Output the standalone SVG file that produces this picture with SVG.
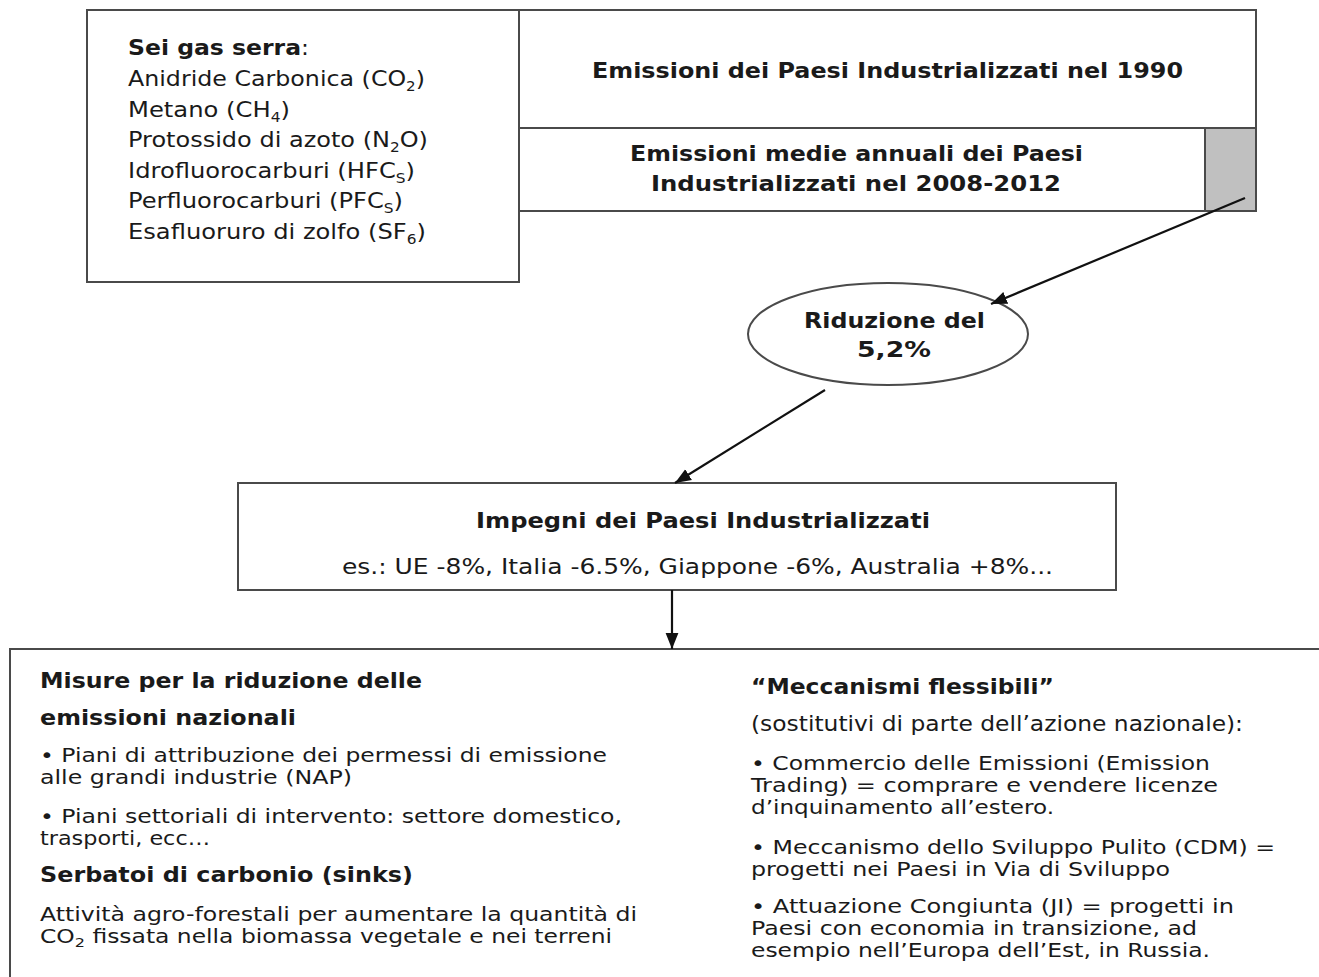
<svg xmlns="http://www.w3.org/2000/svg" width="1319" height="977" viewBox="0 0 1319 977">
<defs>
<style>
.box{fill:#fff;stroke:#4a4a4a;stroke-width:2}
.t{font-family:"DejaVu Sans","Liberation Sans",sans-serif;font-size:22px;fill:#1a1a1a}
.s{font-size:19px}
.b{font-weight:bold}
.conn{stroke:#111;stroke-width:2.2;fill:none}
</style>
<marker id="ah2" viewBox="0 0 10 10" refX="10" refY="5" markerWidth="16" markerHeight="16" markerUnits="userSpaceOnUse" orient="auto">
<path d="M0,1 L10,5 L0,9 z" fill="#111"/>
</marker>
</defs>
<rect width="1319" height="977" fill="#fff"/>

<g id="gas">
<rect class="box" x="87" y="10" width="432" height="272"/>
<text class="t" x="128" y="55" textLength="181" lengthAdjust="spacingAndGlyphs"><tspan class="b">Sei gas serra</tspan>:</text>
<text class="t" x="128" y="86" textLength="297" lengthAdjust="spacingAndGlyphs">Anidride Carbonica (CO<tspan dy="5" font-size="14">2</tspan><tspan dy="-5">)</tspan></text>
<text class="t" x="128" y="117" textLength="162" lengthAdjust="spacingAndGlyphs">Metano (CH<tspan dy="5" font-size="14">4</tspan><tspan dy="-5">)</tspan></text>
<text class="t" x="128" y="147" textLength="300" lengthAdjust="spacingAndGlyphs">Protossido di azoto (N<tspan dy="5" font-size="14">2</tspan><tspan dy="-5">O)</tspan></text>
<text class="t" x="128" y="178" textLength="287" lengthAdjust="spacingAndGlyphs">Idrofluorocarburi (HFC<tspan dy="5" font-size="14">S</tspan><tspan dy="-5">)</tspan></text>
<text class="t" x="128" y="208" textLength="275" lengthAdjust="spacingAndGlyphs">Perfluorocarburi (PFC<tspan dy="5" font-size="14">S</tspan><tspan dy="-5">)</tspan></text>
<text class="t" x="128" y="239" textLength="298" lengthAdjust="spacingAndGlyphs">Esafluoruro di zolfo (SF<tspan dy="5" font-size="14">6</tspan><tspan dy="-5">)</tspan></text>
</g>

<g id="em1990">
<rect class="box" x="519" y="10" width="737" height="118"/>
<text class="t b" x="592" y="78" textLength="591" lengthAdjust="spacingAndGlyphs">Emissioni dei Paesi Industrializzati nel 1990</text>
</g>

<g id="em2008">
<rect class="box" x="519" y="128" width="737" height="83"/>
<rect x="1205" y="128" width="51" height="83" fill="#c0c0c0" stroke="#4a4a4a" stroke-width="2"/>
<text class="t b" x="630" y="161" textLength="453" lengthAdjust="spacingAndGlyphs">Emissioni medie annuali dei Paesi</text>
<text class="t b" x="651" y="191" textLength="410" lengthAdjust="spacingAndGlyphs">Industrializzati nel 2008-2012</text>
</g>

<g id="riduzione">
<ellipse class="box" cx="888" cy="334" rx="140" ry="51"/>
<text class="t b" x="804" y="328" textLength="181" lengthAdjust="spacingAndGlyphs">Riduzione del</text>
<text class="t b" x="857" y="357" textLength="74" lengthAdjust="spacingAndGlyphs">5,2%</text>
</g>

<g id="impegni">
<rect class="box" x="238" y="483" width="878" height="107"/>
<text class="t b" x="476" y="528" textLength="454" lengthAdjust="spacingAndGlyphs">Impegni dei Paesi Industrializzati</text>
<text class="t" x="342" y="574" textLength="711" lengthAdjust="spacingAndGlyphs">es.: UE -8%, Italia -6.5%, Giappone -6%, Australia +8%...</text>
</g>

<g id="misure">
<path class="box" d="M10,990 L10,649 L1330,649"/>
<text class="t b" x="40" y="688" textLength="382" lengthAdjust="spacingAndGlyphs">Misure per la riduzione delle</text>
<text class="t b" x="40" y="725" textLength="256" lengthAdjust="spacingAndGlyphs">emissioni nazionali</text>
<text class="t s" x="40" y="762" textLength="567" lengthAdjust="spacingAndGlyphs">• Piani di attribuzione dei permessi di emissione</text>
<text class="t s" x="40" y="784" textLength="312" lengthAdjust="spacingAndGlyphs">alle grandi industrie (NAP)</text>
<text class="t s" x="40" y="823" textLength="582" lengthAdjust="spacingAndGlyphs">• Piani settoriali di intervento: settore domestico,</text>
<text class="t s" x="40" y="845" textLength="170" lengthAdjust="spacingAndGlyphs">trasporti, ecc…</text>
<text class="t b" x="40" y="882" textLength="373" lengthAdjust="spacingAndGlyphs">Serbatoi di carbonio (sinks)</text>
<text class="t s" x="40" y="921" textLength="597" lengthAdjust="spacingAndGlyphs">Attività agro-forestali per aumentare la quantità di</text>
<text class="t s" x="40" y="943" textLength="572" lengthAdjust="spacingAndGlyphs">CO<tspan dy="4" font-size="13">2</tspan><tspan dy="-4"> fissata nella biomassa vegetale e nei terreni</tspan></text>
</g>

<g id="meccanismi">
<text class="t b" x="751" y="694" textLength="303" lengthAdjust="spacingAndGlyphs">“Meccanismi flessibili”</text>
<text class="t" x="751" y="731" textLength="492" lengthAdjust="spacingAndGlyphs">(sostitutivi di parte dell’azione nazionale):</text>
<text class="t s" x="751" y="770" textLength="459" lengthAdjust="spacingAndGlyphs">• Commercio delle Emissioni (Emission</text>
<text class="t s" x="751" y="792" textLength="467" lengthAdjust="spacingAndGlyphs">Trading) = comprare e vendere licenze</text>
<text class="t s" x="751" y="814" textLength="303" lengthAdjust="spacingAndGlyphs">d’inquinamento all’estero.</text>
<text class="t s" x="751" y="854" textLength="524" lengthAdjust="spacingAndGlyphs">• Meccanismo dello Sviluppo Pulito (CDM) =</text>
<text class="t s" x="751" y="876" textLength="419" lengthAdjust="spacingAndGlyphs">progetti nei Paesi in Via di Sviluppo</text>
<text class="t s" x="751" y="913" textLength="483" lengthAdjust="spacingAndGlyphs">• Attuazione Congiunta (JI) = progetti in</text>
<text class="t s" x="751" y="935" textLength="446" lengthAdjust="spacingAndGlyphs">Paesi con economia in transizione, ad</text>
<text class="t s" x="751" y="957" textLength="459" lengthAdjust="spacingAndGlyphs">esempio nell’Europa dell’Est, in Russia.</text>
</g>

<g id="connectors">
<line class="conn" x1="1245" y1="198" x2="991" y2="304" marker-end="url(#ah2)"/>
<line class="conn" x1="825" y1="390" x2="675" y2="483" marker-end="url(#ah2)"/>
<line class="conn" x1="672" y1="590" x2="672" y2="649" marker-end="url(#ah2)"/>
</g>
</svg>
